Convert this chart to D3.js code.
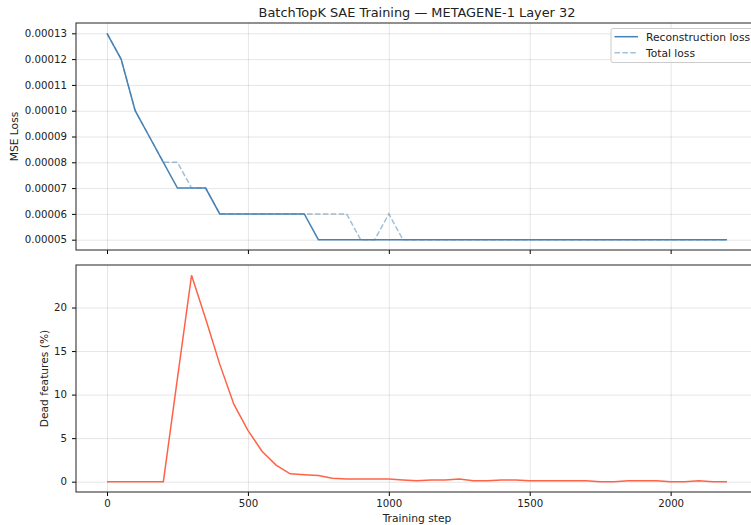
<!DOCTYPE html>
<html>
<head>
<meta charset="utf-8">
<script src="https://cdn.jsdelivr.net/npm/d3@7"></script>
<style>
  body { margin: 0; background: #fff; }
  svg { font-family: "DejaVu Sans", sans-serif; }
  .grid line { stroke: #000; stroke-opacity: 0.1; }
  .grid path { display: none; }
  .tick text { fill: #222; }
</style>
</head>
<body>
<div id="chart"></div>
<script>
// training steps logged every 50
var steps = d3.range(0, 2201, 50);

var reconLoss = [0.00013, 0.00012, 0.00010, 0.00009, 0.00008, 0.00007, 0.00007, 0.00007,
  0.00006, 0.00006, 0.00006, 0.00006, 0.00006, 0.00006, 0.00006,
  0.00005, 0.00005, 0.00005, 0.00005, 0.00005, 0.00005, 0.00005, 0.00005, 0.00005, 0.00005,
  0.00005, 0.00005, 0.00005, 0.00005, 0.00005, 0.00005, 0.00005, 0.00005, 0.00005, 0.00005,
  0.00005, 0.00005, 0.00005, 0.00005, 0.00005, 0.00005, 0.00005, 0.00005, 0.00005, 0.00005];

var totalLoss = [0.00013, 0.00012, 0.00010, 0.00009, 0.00008, 0.00008, 0.00007, 0.00007,
  0.00006, 0.00006, 0.00006, 0.00006, 0.00006, 0.00006, 0.00006,
  0.00006, 0.00006, 0.00006, 0.00005, 0.00005, 0.00006, 0.00005, 0.00005, 0.00005, 0.00005,
  0.00005, 0.00005, 0.00005, 0.00005, 0.00005, 0.00005, 0.00005, 0.00005, 0.00005, 0.00005,
  0.00005, 0.00005, 0.00005, 0.00005, 0.00005, 0.00005, 0.00005, 0.00005, 0.00005, 0.00005];

var deadPct = [0, 0, 0, 0, 0, 11.9, 23.7, 18.7, 13.5, 8.9, 5.9, 3.5, 1.9, 0.9, 0.8,
  0.7, 0.4, 0.3, 0.3, 0.3, 0.3, 0.2, 0.1, 0.2, 0.2, 0.3, 0.1, 0.1, 0.2, 0.2,
  0.1, 0.1, 0.1, 0.1, 0.1, 0.0, 0.0, 0.1, 0.1, 0.1, 0.0, 0.0, 0.1, 0.0, 0.0];

var lossTicks = [0.00005, 0.00006, 0.00007, 0.00008, 0.00009, 0.00010, 0.00011, 0.00012, 0.00013];
var deadTicks = [0, 5, 10, 15, 20];
var stepTicks = [0, 500, 1000, 1500, 2000];

var W = 751, H = 525;
var left = 76, right = 758;
var top1 = 23, bot1 = 250, top2 = 265, bot2 = 492;

var svg = d3.select('#chart').append('svg')
    .attr('width', W).attr('height', H);

var x = d3.scaleLinear().domain([-110, 2310]).range([left, right]);
var y1 = d3.scaleLinear().domain([0.000046, 0.000134]).range([bot1, top1]);
var y2 = d3.scaleLinear().domain([-1.185, 24.885]).range([bot2, top2]);

function panel(yScale, yTicks, fmt, yTop, yBot, showX) {
    var g = svg.append('g');
    // grid
    g.append('g').attr('class', 'grid')
        .attr('transform', 'translate(0,' + yBot + ')')
        .call(d3.axisBottom(x).tickValues(stepTicks).tickSize(-(yBot - yTop)).tickFormat(''));
    g.append('g').attr('class', 'grid')
        .attr('transform', 'translate(' + left + ',0)')
        .call(d3.axisLeft(yScale).tickValues(yTicks).tickSize(-(right - left)).tickFormat(''));
    // axes
    var ya = g.append('g')
        .attr('transform', 'translate(' + left + ',0)')
        .call(d3.axisLeft(yScale).tickValues(yTicks).tickFormat(fmt).tickSize(4).tickPadding(5));
    ya.select('.domain').remove();
    var xa = g.append('g')
        .attr('transform', 'translate(0,' + yBot + ')')
        .call(d3.axisBottom(x).tickValues(stepTicks).tickSize(4).tickPadding(4)
            .tickFormat(showX ? d3.format('d') : ''));
    xa.select('.domain').remove();
    g.selectAll('.tick text').attr('font-size', 10.2).attr('font-family', '"DejaVu Sans", sans-serif');
    // frame
    g.append('rect')
        .attr('x', left).attr('y', yTop)
        .attr('width', right - left).attr('height', yBot - yTop)
        .attr('fill', 'none').attr('stroke', '#222').attr('stroke-width', 1);
    return g;
}

var p1 = panel(y1, lossTicks, d3.format('.5f'), top1, bot1, false);
var p2 = panel(y2, deadTicks, d3.format('d'), top2, bot2, true);

var lineLoss = function (vals) {
    return d3.line().x((d, i) => x(steps[i])).y(d => y1(d))(vals);
};

p1.append('path')
    .attr('d', lineLoss(totalLoss))
    .attr('fill', 'none').attr('stroke', '#4682b4').attr('stroke-opacity', 0.5)
    .attr('stroke-width', 1.5).attr('stroke-dasharray', '5.5,2.4');
p1.append('path')
    .attr('d', lineLoss(reconLoss))
    .attr('fill', 'none').attr('stroke', '#4682b4').attr('stroke-width', 1.5);

p2.append('path')
    .attr('d', d3.line().x((d, i) => x(steps[i])).y(d => y2(d))(deadPct))
    .attr('fill', 'none').attr('stroke', '#ff6347').attr('stroke-width', 1.5);

// legend
var lg = svg.append('g').attr('transform', 'translate(611,28.5)');
lg.append('rect').attr('width', 150).attr('height', 34).attr('rx', 2)
    .attr('fill', '#fff').attr('fill-opacity', 0.8).attr('stroke', '#ccc');
var legendItems = [
    { label: 'Reconstruction loss', dash: null, op: 1 },
    { label: 'Total loss', dash: '5.5,2.4', op: 0.5 }
];
legendItems.forEach(function (d, i) {
    var yy = 8.2 + i * 16;
    lg.append('line').attr('x1', 3.5).attr('x2', 27).attr('y1', yy).attr('y2', yy)
        .attr('stroke', '#4682b4').attr('stroke-opacity', d.op).attr('stroke-width', 1.5)
        .attr('stroke-dasharray', d.dash);
    lg.append('text').attr('x', 35).attr('y', yy + 4).attr('font-size', 10.7).attr('fill', '#222')
        .text(d.label);
});

// titles
svg.append('text').attr('x', (left + right) / 2).attr('y', 17).attr('text-anchor', 'middle')
    .attr('font-size', 12.9).attr('fill', '#222')
    .text('BatchTopK SAE Training \u2014 METAGENE-1 Layer 32');
svg.append('text').attr('transform', 'translate(18,' + (top1 + bot1) / 2 + ') rotate(-90)')
    .attr('text-anchor', 'middle').attr('font-size', 10.7).attr('fill', '#222').text('MSE Loss');
svg.append('text').attr('transform', 'translate(48,' + (top2 + bot2) / 2 + ') rotate(-90)')
    .attr('text-anchor', 'middle').attr('font-size', 10.7).attr('fill', '#222').text('Dead features (%)');
svg.append('text').attr('x', (left + right) / 2).attr('y', 522).attr('text-anchor', 'middle')
    .attr('font-size', 10.7).attr('fill', '#222').text('Training step');
</script>
</body>
</html>
